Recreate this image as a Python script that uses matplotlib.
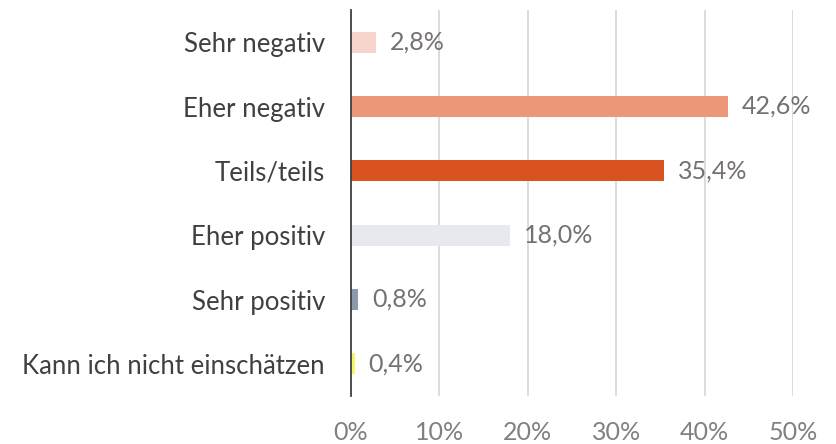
import matplotlib
matplotlib.use("Agg")
import matplotlib.pyplot as plt

categories = ["Sehr negativ", "Eher negativ", "Teils/teils", "Eher positiv", "Sehr positiv", "Kann ich nicht einschätzen"]
values = [2.8, 42.6, 35.4, 18.0, 0.8, 0.4]
value_labels = ["2,8%", "42,6%", "35,4%", "18,0%", "0,8%", "0,4%"]
colors = ["#F8D5CC", "#EC9878", "#D95320", "#E8E9EE", "#8E99AE", "#F5F56A"]
xticks = [0, 10, 20, 30, 40, 50]
xtick_labels = ["0%", "10%", "20%", "30%", "40%", "50%"]

plt.rcParams['font.family'] = ['Lato', 'DejaVu Sans']

fig = plt.figure(figsize=(8.36, 4.44), dpi=100)
ax = fig.add_axes([351/836, 1-396/444, (793-351)/836, (396-10)/444])

y = list(range(len(categories)))
ax.barh(y, values, height=0.33, color=colors, zorder=3)
for yi, v, lab in zip(y, values, value_labels):
    ax.text(v + 1.6, yi, lab, va='center', ha='left', fontsize=18, color='#767171')

ax.set_ylim(len(categories) - 0.5, -0.5)
ax.set_xlim(0, 50)
ax.set_yticks(y)
ax.set_yticklabels(categories, fontsize=18.5, color='#404040')
ax.set_xticks(xticks)
ax.set_xticklabels(xtick_labels, fontsize=18, color='#808080')
ax.tick_params(axis='both', length=0)
ax.tick_params(axis='x', pad=18)
ax.tick_params(axis='y', pad=18.7)
ax.xaxis.grid(True, color='#D9D9D9', linewidth=1.3, zorder=0)
for s in ['top', 'right', 'bottom']:
    ax.spines[s].set_visible(False)
ax.spines['left'].set_color('#404040')
ax.spines['left'].set_linewidth(1.3)
ax.spines['left'].set_zorder(4)

fig.savefig("out.png", dpi=100)
